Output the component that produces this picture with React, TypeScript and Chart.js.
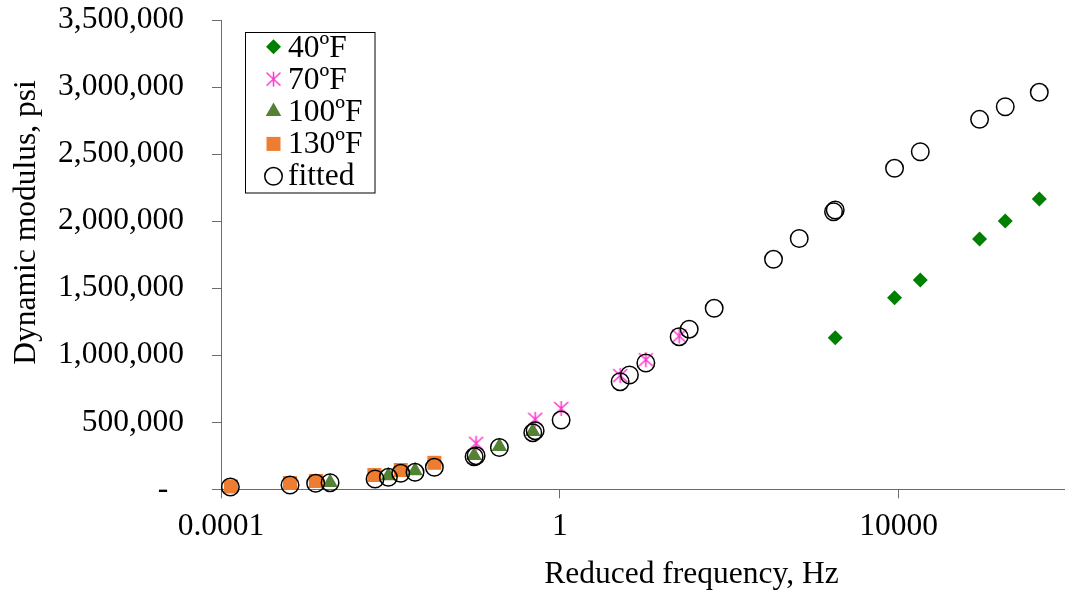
import React, { useEffect, useRef } from 'react';
import { Chart, registerables } from 'chart.js';

Chart.register(...registerables);

// ---------- data ----------
const seriesLabels = ['40ºF', '70ºF', '100ºF', '130ºF', 'fitted'];

const f40X = [1786, 8955, 18030, 90360, 181600, 458200];
const f40Y = [1130500, 1428800, 1560800, 1866500, 2000700, 2164800];

const f70X = [0.1028, 0.5117, 1.037, 5.156, 10.37, 25.66];
const f70Y = [343000, 522000, 602500, 848600, 966400, 1143200];

const f100X = [0.00194, 0.00946, 0.01954, 0.0973, 0.1936, 0.4797];
const f100Y = [50700, 100700, 138000, 252000, 319200, 431000];

const f130X = [0.000131, 0.000653, 0.00132, 0.00647, 0.01324, 0.03304];
const f130Y = [20900, 47000, 61900, 106600, 143900, 197600];

const fitX = [
  0.000129, 0.000653, 0.00131, 0.00194, 0.00659, 0.00946, 0.01324, 0.01954, 0.03304,
  0.0973, 0.1028, 0.1936, 0.4797, 0.5117, 1.037, 5.156, 6.64, 10.37, 25.66, 33.7,
  66.5, 333.4, 671, 1706, 1786, 8955, 18030, 90360, 181600, 458200,
];
const fitY = [
  17150, 32070, 44740, 49220, 76810, 89490, 119300, 126800, 164100,
  243100, 250600, 311700, 422100, 437000, 516800, 802400, 852300, 941800, 1138000, 1194000,
  1349700, 1715100, 1870300, 2070100, 2082800, 2393700, 2517500, 2759100, 2853100, 2960500,
];

const xTickValues = [0.0001, 1, 10000];
const xMin = 0.0001;
const xMax = 1000000;
const yMin = 0;
const yMax = 3500000;
const yStep = 500000;

const xTitle = 'Reduced frequency, Hz';
const yTitle = 'Dynamic modulus, psi';

// ---------- styles ----------
const FONT_FAMILY = "'Liberation Serif', 'Times New Roman', serif";
const FONT_SIZE = 31.5;
const AXIS_COLOR = '#6b6b6b';
const C40 = '#008000';
const C70 = '#FF33CC';
const C100 = '#548235';
const C130 = '#ED7D31';

const CANVAS_W = 1068;
const CANVAS_H = 598;
const AREA = { left: 221, top: 20, bottom: 489.3 };

function toPoints(xs: number[], ys: number[]) {
  return xs.map((x, i) => ({ x, y: ys[i] }));
}

function makeAsterisk(): HTMLCanvasElement {
  const c = document.createElement('canvas');
  c.width = 17;
  c.height = 17;
  const g = c.getContext('2d')!;
  g.strokeStyle = C70;
  g.lineWidth = 1.5;
  g.beginPath();
  g.moveTo(1.5, 2);
  g.lineTo(15.5, 15);
  g.moveTo(15.5, 2);
  g.lineTo(1.5, 15);
  g.moveTo(8.5, 1);
  g.lineTo(8.5, 16);
  g.stroke();
  return c;
}

export default function App() {
  const canvasRef = useRef<HTMLCanvasElement | null>(null);

  useEffect(() => {
    if (!canvasRef.current) return;
    const asterisk = makeAsterisk();

    const drawMarker = (ctx: CanvasRenderingContext2D, idx: number, x: number, y: number) => {
      ctx.save();
      if (idx === 0) {
        ctx.fillStyle = C40;
        ctx.beginPath();
        ctx.moveTo(x - 7.5, y);
        ctx.lineTo(x, y - 7.5);
        ctx.lineTo(x + 7.5, y);
        ctx.lineTo(x, y + 7.5);
        ctx.closePath();
        ctx.fill();
      } else if (idx === 1) {
        ctx.drawImage(asterisk, x - asterisk.width / 2, y - asterisk.height / 2);
      } else if (idx === 2) {
        ctx.fillStyle = C100;
        ctx.beginPath();
        ctx.moveTo(x, y - 9);
        ctx.lineTo(x + 7.8, y + 4.5);
        ctx.lineTo(x - 7.8, y + 4.5);
        ctx.closePath();
        ctx.fill();
      } else if (idx === 3) {
        ctx.fillStyle = C130;
        ctx.fillRect(x - 7, y - 7, 14, 14);
      } else {
        ctx.strokeStyle = '#000';
        ctx.lineWidth = 1.5;
        ctx.beginPath();
        ctx.arc(x, y, 8.75, 0, Math.PI * 2);
        ctx.stroke();
      }
      ctx.restore();
    };

    const overlay = {
      id: 'overlay',
      afterDraw(chart: any) {
        const ctx: CanvasRenderingContext2D = chart.ctx;
        ctx.save();
        ctx.font = `${FONT_SIZE}px ${FONT_FAMILY}`;
        ctx.fillStyle = '#000';
        // x title
        ctx.textAlign = 'center';
        ctx.textBaseline = 'alphabetic';
        ctx.fillText(xTitle, 691.5, 583.3);
        // y title
        ctx.save();
        ctx.translate(35, 222.5);
        ctx.rotate(-Math.PI / 2);
        ctx.fillText(yTitle, 0, 0);
        ctx.restore();
        // legend
        const bx = 245.5, by = 32.5, bw = 129.5, bh = 160.5;
        ctx.fillStyle = '#fff';
        ctx.fillRect(bx, by, bw, bh);
        ctx.strokeStyle = '#000';
        ctx.lineWidth = 1;
        ctx.strokeRect(bx, by, bw, bh);
        ctx.textAlign = 'left';
        chart.data.datasets.forEach((ds: any, i: number) => {
          const my = 46.7 + i * 32.4;
          drawMarker(ctx, i, 273.5, my);
          ctx.fillStyle = '#000';
          ctx.fillText(ds.label, 288, 56.7 + i * 32);
        });
        ctx.restore();
      },
    };

    const chart = new Chart(canvasRef.current, {
      type: 'scatter',
      data: {
        datasets: [
          {
            label: seriesLabels[0],
            data: toPoints(f40X, f40Y),
            pointStyle: 'rectRot',
            pointRadius: 7.5,
            backgroundColor: C40,
            borderWidth: 0,
            order: 1,
            clip: false,
          },
          {
            label: seriesLabels[1],
            data: toPoints(f70X, f70Y),
            pointStyle: asterisk,
            pointRadius: 8,
            backgroundColor: C70,
            borderColor: C70,
            order: 1,
            clip: false,
          },
          {
            label: seriesLabels[2],
            data: toPoints(f100X, f100Y),
            pointStyle: 'triangle',
            pointRadius: 9,
            backgroundColor: C100,
            borderWidth: 0,
            order: 1,
            clip: false,
          },
          {
            label: seriesLabels[3],
            data: toPoints(f130X, f130Y),
            pointStyle: 'rect',
            pointRadius: 9.9,
            backgroundColor: C130,
            borderWidth: 0,
            order: 1,
            clip: false,
          },
          {
            label: seriesLabels[4],
            data: toPoints(fitX, fitY),
            pointStyle: 'circle',
            pointRadius: 8.75,
            backgroundColor: 'rgba(0,0,0,0)',
            borderColor: '#000',
            borderWidth: 1.5,
            order: 0,
            clip: false,
          },
        ] as any,
      },
      options: {
        responsive: false,
        animation: false,
        devicePixelRatio: 1,
        layout: { autoPadding: false, padding: { top: AREA.top, right: 0, bottom: 0, left: 0 } },
        plugins: {
          legend: { display: false },
          tooltip: { enabled: false },
        },
        scales: {
          x: {
            type: 'logarithmic',
            min: xMin,
            max: xMax,
            afterBuildTicks: (scale: any) => {
              scale.ticks = xTickValues.map((v) => ({ value: v }));
            },
            afterFit: (scale: any) => {
              scale.height = CANVAS_H - AREA.bottom;
              scale.paddingLeft = 0;
              scale.paddingRight = 0;
            },
            ticks: {
              autoSkip: false,
              maxRotation: 0,
              padding: 10,
              color: '#000',
              font: { family: FONT_FAMILY, size: FONT_SIZE },
              callback: (v: any) => String(v),
            },
            grid: {
              drawOnChartArea: false,
              drawTicks: true,
              tickLength: 9,
              color: AXIS_COLOR,
              lineWidth: 1,
            },
            border: { display: true, color: AXIS_COLOR, width: 1 },
            title: { display: false, text: xTitle },
          },
          y: {
            type: 'linear',
            min: yMin,
            max: yMax,
            afterFit: (scale: any) => {
              scale.width = AREA.left;
              scale.paddingTop = 0;
              scale.paddingBottom = 0;
            },
            ticks: {
              stepSize: yStep,
              padding: 28,
              color: '#000',
              font: { family: FONT_FAMILY, size: FONT_SIZE },
              callback: (v: any) => (Number(v) === 0 ? '-  ' : Number(v).toLocaleString('en-US')),
            },
            grid: {
              drawOnChartArea: false,
              drawTicks: true,
              tickLength: 9,
              color: AXIS_COLOR,
              lineWidth: 1,
            },
            border: { display: true, color: AXIS_COLOR, width: 1 },
            title: { display: false, text: yTitle },
          },
        },
      } as any,
      plugins: [overlay],
    });

    return () => chart.destroy();
  }, []);

  return (
    <div
      style={{
        position: 'absolute',
        left: 0,
        top: 0,
        width: 1065,
        height: 598,
        overflow: 'hidden',
        background: '#fff',
      }}
    >
      <canvas
        ref={canvasRef}
        width={CANVAS_W}
        height={CANVAS_H}
        style={{ display: 'block', width: CANVAS_W, height: CANVAS_H }}
      />
    </div>
  );
}
